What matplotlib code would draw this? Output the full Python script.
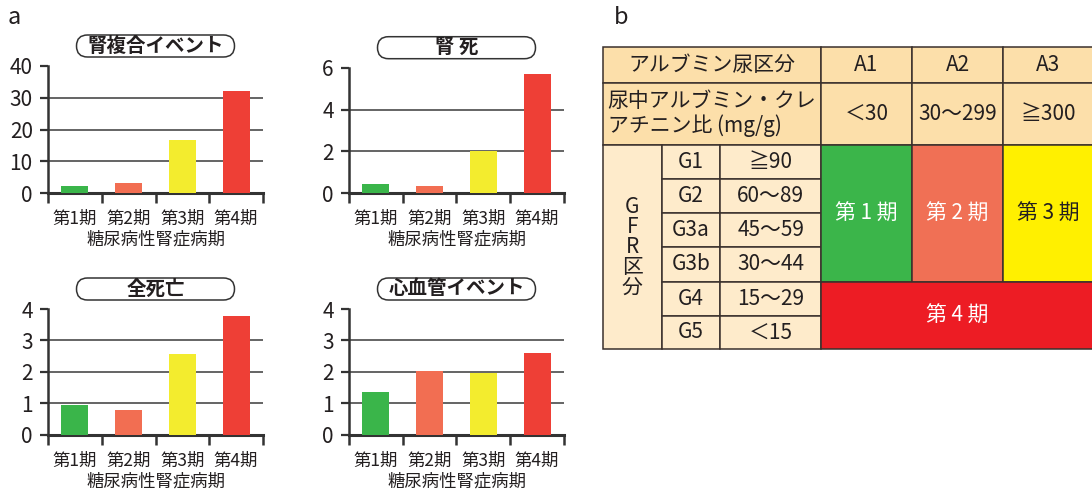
import matplotlib
matplotlib.use("Agg")
import matplotlib.pyplot as plt
from matplotlib.patches import FancyBboxPatch, Rectangle

plt.rcParams['font.family'] = ['Noto Sans CJK JP', 'DejaVu Sans']

# ---------------- data ----------------
stages = ["第1期", "第2期", "第3期", "第4期"]
xlabel_text = "糖尿病性腎症病期"
bar_colors = ["#3AB54A", "#F26E52", "#F3EC2E", "#EE3F36"]

titles = ["腎複合イベント", "腎 死", "全死亡", "心血管イベント"]
renal_composite = [2.4, 3.3, 16.6, 32.1]
renal_death = [0.45, 0.35, 2.0, 5.72]
all_death = [0.95, 0.79, 2.57, 3.78]
cv_events = [1.36, 2.03, 1.96, 2.6]
series = [renal_composite, renal_death, all_death, cv_events]
yticks_list = [[0, 10, 20, 30, 40], [0, 2, 4, 6], [0, 1, 2, 3, 4], [0, 1, 2, 3, 4]]

# table text
alb_header = "アルブミン尿区分"
alb_classes = ["A1", "A2", "A3"]
ratio_header = "尿中アルブミン・クレ\nアチニン比 (mg/g)"
ratio_ranges = ["＜30", "30～299", "≧300"]
gfr_header = "G\nF\nR\n区\n分"
gfr_classes = ["G1", "G2", "G3a", "G3b", "G4", "G5"]
gfr_ranges = ["≧90", "60～89", "45～59", "30～44", "15～29", "＜15"]
stage_cells = ["第 1 期", "第 2 期", "第 3 期", "第 4 期"]
table_colors = ["#3BB54A", "#F07055", "#FFF000", "#ED1C24"]
stage_text_colors = ["white", "white", "#231F20", "white"]

# ---------------- figure ----------------
W, H = 1092, 495
fig = plt.figure(figsize=(W / 100, H / 100), dpi=100)
txt = "#231F20"

def px_axes(x0, x1, ytop, ybot):
    return fig.add_axes([x0 / W, 1 - ybot / H, (x1 - x0) / W, (ybot - ytop) / H])

ax_boxes = [(48, 263, 66, 193.3), (349, 564, 67.7, 193.3),
            (48, 263, 309, 434.7), (349, 564, 309, 434.7)]

ov = fig.add_axes([0, 0, 1, 1], zorder=-1)
ov.set_xlim(0, W)
ov.set_ylim(H, 0)
ov.axis("off")

for i, (box, vals, title, yt) in enumerate(zip(ax_boxes, series, titles, yticks_list)):
    ax = px_axes(*box)
    x = list(range(len(stages)))
    ax.bar(x, vals, width=0.5, color=bar_colors, zorder=3)
    ax.set_xlim(-0.5, len(stages) - 0.5)
    ax.set_ylim(yt[0], yt[-1])
    ax.set_yticks(yt)
    ax.set_yticklabels([str(v) for v in yt])
    ax.tick_params(axis="y", direction="out", length=6, width=1.6, pad=5,
                   labelsize=15, colors="#333333", labelcolor=txt)
    ax.set_xticks([k - 0.5 for k in range(len(stages) + 1)])
    ax.set_xticklabels([])
    ax.tick_params(axis="x", which="major", direction="out", length=7, width=1.8,
                   colors="#333333")
    ax.set_xticks(x, minor=True)
    ax.set_xticklabels(stages, minor=True)
    ax.tick_params(axis="x", which="minor", length=0, pad=12, labelsize=12.5,
                   labelcolor=txt)
    ax.set_xlabel(xlabel_text, fontsize=12.5, color=txt, labelpad=2)
    for s in ["top", "right"]:
        ax.spines[s].set_visible(False)
    ax.spines["left"].set_linewidth(1.8)
    ax.spines["bottom"].set_linewidth(2.2)
    ax.spines["left"].set_color("#333333")
    ax.spines["bottom"].set_color("#333333")
    ax.yaxis.grid(True, color="#3a3a3a", linewidth=1.1, zorder=1)
    ax.set_axisbelow(True)
    gl = ax.get_ygridlines()
    gl[-1].set_visible(False)

    # rounded title box
    cx = (box[0] + box[1]) / 2
    ty = box[2] - 20
    bw, bh = 158, 22
    ov.add_patch(FancyBboxPatch((cx - bw / 2, ty - bh / 2), bw, bh,
                                boxstyle="round,pad=0,rounding_size=11",
                                facecolor="white", edgecolor="#333333", linewidth=1.1))
    ov.text(cx, ty, title, ha="center", va="center", fontsize=14,
            fontweight="bold", color=txt)

# panel labels
ov.text(14, 18, "a", ha="center", va="center", fontsize=17, color=txt)
ov.text(621, 17, "b", ha="center", va="center", fontsize=17, color=txt)

# ---------------- table ----------------
rows = [46.7, 82.7, 145, 179.3, 213, 247, 281.7, 315.7, 349.3]
cols = [603, 661.7, 720.3, 821, 912, 1003, 1094]
hdr = "#FCDFAA"
light = "#FEEBCB"
edge = "#3A302C"
lw = 1.1
tfs = 15

def cell(x0, x1, y0, y1, fc, text=None, color=txt, fs=tfs, weight="normal",
         ls=1.15, ma="center"):
    ov.add_patch(Rectangle((x0, y0), x1 - x0, y1 - y0, facecolor=fc,
                           edgecolor=edge, linewidth=lw))
    if text is not None:
        ov.text((x0 + x1) / 2, (y0 + y1) / 2, text, ha="center", va="center",
                fontsize=fs, color=color, fontweight=weight, linespacing=ls,
                multialignment=ma)

# header rows
cell(cols[0], cols[3], rows[0], rows[1], hdr, alb_header)
for j, t in enumerate(alb_classes):
    cell(cols[3 + j], cols[4 + j], rows[0], rows[1], hdr, t)
cell(cols[0], cols[3], rows[1], rows[2], hdr, ratio_header, ls=1.15, ma="left")
for j, t in enumerate(ratio_ranges):
    cell(cols[3 + j], cols[4 + j], rows[1], rows[2], hdr, t)

# GFR column
cell(cols[0], cols[1], rows[2], rows[8], light, gfr_header, ls=0.9)
for r, (g, v) in enumerate(zip(gfr_classes, gfr_ranges)):
    cell(cols[1], cols[2], rows[2 + r], rows[3 + r], light, g)
    cell(cols[2], cols[3], rows[2 + r], rows[3 + r], light, v)

# stage cells
for j in range(3):
    cell(cols[3 + j], cols[4 + j], rows[2], rows[6], table_colors[j],
         stage_cells[j], color=stage_text_colors[j])
cell(cols[3], cols[6], rows[6], rows[8], table_colors[3], stage_cells[3],
     color=stage_text_colors[3])

fig.savefig("out.png", dpi=100)
